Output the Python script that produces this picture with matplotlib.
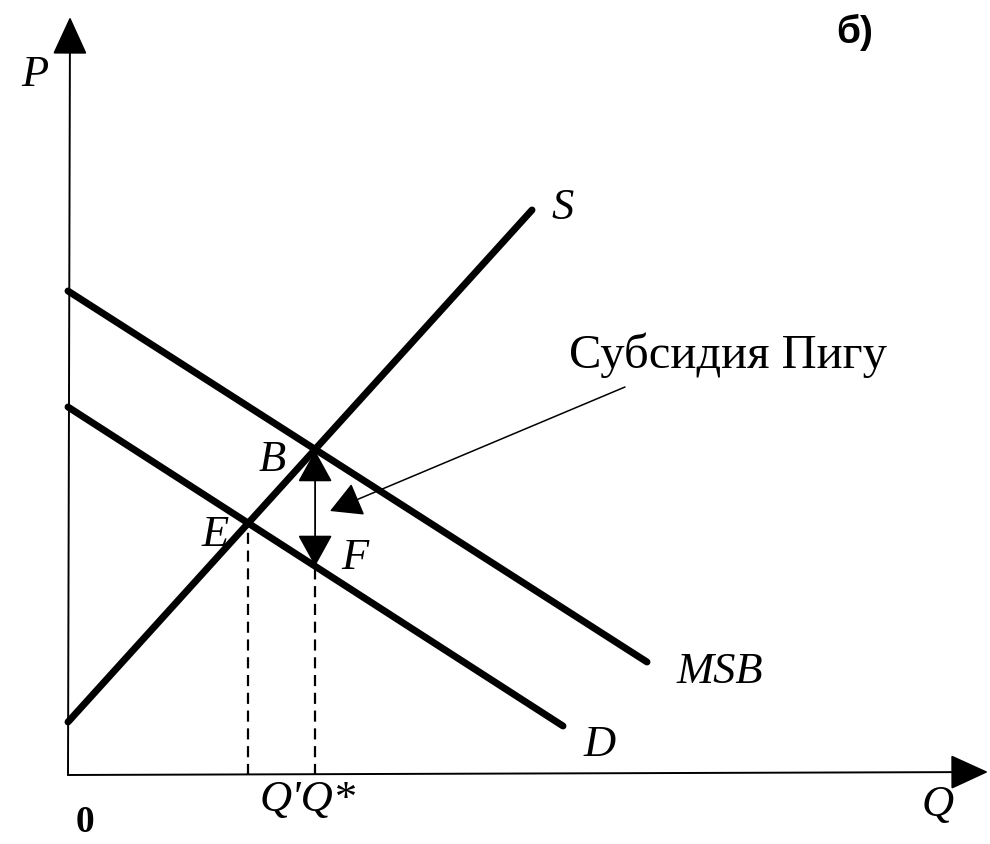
import matplotlib
matplotlib.use("Agg")
import matplotlib.pyplot as plt
import numpy as np

# Line endpoints (Q, P)
s_q = [0.0, 46.4]
s_p = [5.3, 56.5]
msb_q = [0.0, 57.9]
msb_p = [48.4, 11.3]
d_q = [0.0, 49.5]
d_p = [36.8, 4.9]

SERIF = "Liberation Serif"


def line_coef(q, p):
    k = (p[1] - p[0]) / (q[1] - q[0])
    return k, p[0] - k * q[0]


def cross(a, b):
    k1, b1 = a
    k2, b2 = b
    q = (b2 - b1) / (k1 - k2)
    return q, k1 * q + b1


S = line_coef(s_q, s_p)
MSB = line_coef(msb_q, msb_p)
D = line_coef(d_q, d_p)
qB, pB = cross(S, MSB)   # B
qE, pE = cross(S, D)     # E
pF = D[0] * qB + D[1]    # F

fig = plt.figure(figsize=(9.9, 8.45), dpi=100)
ax = fig.add_axes([0, 0, 1, 1])
ax.set_xlim(-6.8, 92.2)
ax.set_ylim(-6.9, 77.6)
ax.axis("off")

# axes with arrows
ax.annotate("", xy=(0.2, 75.8), xytext=(0.0, 0.0),
            arrowprops=dict(arrowstyle="-|>,head_length=1.2,head_width=0.55",
                            mutation_scale=20, lw=1.4, color="black",
                            shrinkA=0, shrinkB=0))
ax.annotate("", xy=(92.0, 0.3), xytext=(0.0, 0.0),
            arrowprops=dict(arrowstyle="-|>,head_length=1.2,head_width=0.55",
                            mutation_scale=20, lw=1.4, color="black",
                            shrinkA=0, shrinkB=0))

# curves
for q, p in [(s_q, s_p), (msb_q, msb_p), (d_q, d_p)]:
    ax.plot(q, p, color="black", lw=5, solid_capstyle="round")

# dashed drop lines
ax.plot([qE, qE], [0, pE], color="black", lw=1.6, ls=(0, (5, 3)))
ax.plot([qB, qB], [0, pF], color="black", lw=1.6, ls=(0, (5, 3)))

# double arrow B-F
ax.annotate("", xy=(qB, pF), xytext=(qB, pB),
            arrowprops=dict(arrowstyle="<|-|>,head_length=1.0,head_width=0.55",
                            mutation_scale=20, lw=1.3, color="black",
                            shrinkA=1, shrinkB=0))

# pointer from label
ax.annotate("", xy=(26.2, 26.4), xytext=(55.7, 38.8),
            arrowprops=dict(arrowstyle="-|>,head_length=1.0,head_width=0.55",
                            mutation_scale=20, lw=1.1, color="black",
                            shrinkA=0, shrinkB=0))

it = dict(family=SERIF, style="italic", fontsize=32, ha="center", va="center")
ax.text(-3.3, 70.1, "P", **it)
ax.text(87.0, -2.9, "Q", **it)
ax.text(49.5, 56.8, "S", **it)
ax.text(65.2, 10.4, "MSB", **it)
ax.text(53.2, 3.1, "D", **it)
ax.text(20.4, 31.6, "B", **it)
ax.text(14.7, 24.1, "E", **it)
ax.text(28.7, 21.8, "F", **it)
ax.text(24.0, -2.4, "Q'Q*", **it)
ax.text(1.7, -4.7, "0", family=SERIF, fontsize=27, fontweight="bold",
        ha="center", va="center")
ax.text(66.0, 42.1, "Субсидия Пигу", family=SERIF, fontsize=35,
        ha="center", va="center")
ax.text(78.7, 74.4, "б)", family="Liberation Sans", fontweight="bold",
        fontsize=28, ha="center", va="center")

fig.savefig("out.png", dpi=100)
